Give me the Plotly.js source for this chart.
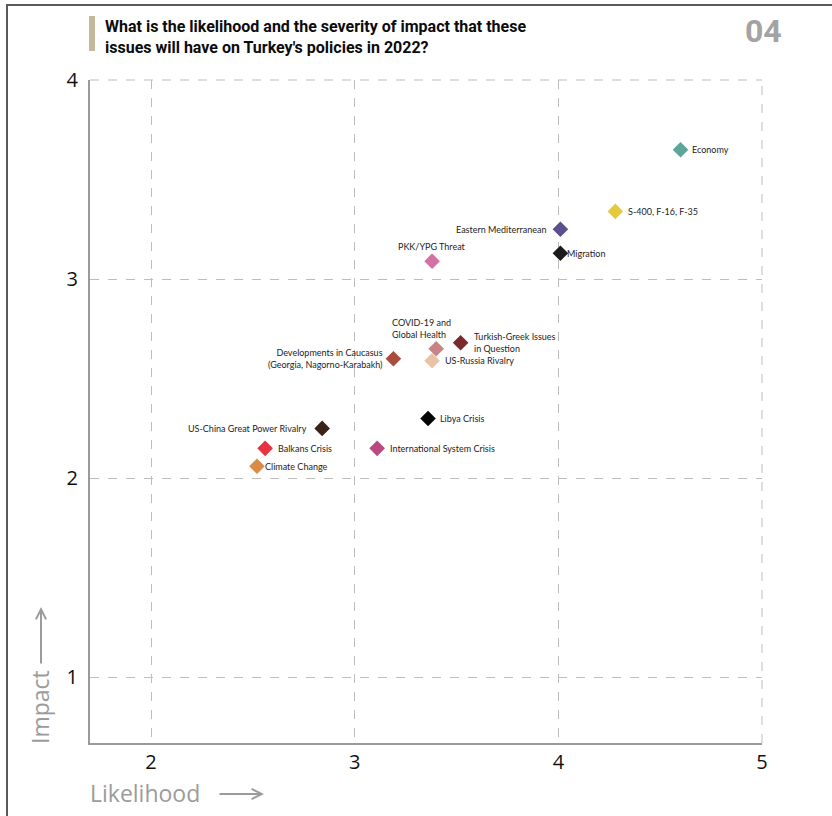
<!DOCTYPE html>
<html>
<head>
<meta charset="utf-8">
<script src="https://cdn.plot.ly/plotly-3.0.1.min.js"></script>
<style>html,body{margin:0;padding:0;background:#fff;}#chart{width:832px;height:816px;}</style>
</head>
<body>
<div id="chart"></div>
<script>
// ---- data ----
const issues = [
  "Economy", "S-400, F-16, F-35", "Eastern Mediterranean", "Migration",
  "PKK/YPG Threat", "COVID-19 and<br>Global Health", "Turkish-Greek Issues<br>in Question",
  "Developments in Caucasus<br>(Georgia, Nagorno-Karabakh)", "US-Russia Rivalry",
  "Libya Crisis", "US-China Great Power Rivalry", "International System Crisis",
  "Balkans Crisis", "Climate Change"
];
const likelihood = [4.60, 4.28, 4.01, 4.01, 3.38, 3.40, 3.52, 3.19, 3.38, 3.36, 2.84, 3.11, 2.56, 2.52];
const impact     = [3.65, 3.34, 3.25, 3.13, 3.09, 2.65, 2.68, 2.60, 2.59, 2.30, 2.25, 2.15, 2.15, 2.06];
const xTicks = [2, 3, 4, 5];
const yTicks = [1, 2, 3, 4];

// ---- styles ----
const colors = ["#5ba59b", "#e6c93c", "#5b4f8c", "#1b1a1c", "#d272a2", "#c98384", "#7b2a2c",
                "#a94c3c", "#e9c3a3", "#050505", "#3b2219", "#b94a80", "#e8323f", "#d98c45"];
// label placement: [xanchor, yanchor, xshift, yshift, align]
const labelPos = [
  ["left","middle",9,0,"left"], ["left","middle",11,0,"left"], ["right","middle",-12,0,"right"],
  ["left","middle",5,0,"left"], ["center","bottom",0,7,"center"], ["center","bottom",-15,7,"left"],
  ["left","middle",11,0,"left"], ["right","middle",-8,0,"right"], ["left","middle",11,0,"left"],
  ["left","middle",10,0,"left"], ["right","middle",-13,0,"right"], ["left","middle",11,0,"left"],
  ["left","middle",11,0,"left"], ["left","middle",6,0,"left"]
];

// geometry helpers for paper coords (plot area px 90..762 x 80..743)
const L = 90, R = 70, T = 80, B = 73, W = 832, H = 816;
const pw = W - L - R, ph = H - T - B;
const px = v => (v - L) / pw;
const py = v => 1 - (v - T) / ph;

const trace = {
  x: likelihood, y: impact, type: "scatter", mode: "markers",
  marker: {symbol: "diamond", size: 12, color: colors, line: {width: 0}},
  hoverinfo: "skip", showlegend: false
};

const annotations = issues.map((t, i) => ({
  x: likelihood[i], y: impact[i], xref: "x", yref: "y", text: t, showarrow: false,
  xanchor: labelPos[i][0], yanchor: labelPos[i][1], xshift: labelPos[i][2], yshift: labelPos[i][3],
  align: labelPos[i][4], font: {family: "Lato, 'Open Sans', sans-serif", size: 9, color: "#1e1b1c"}
}));

annotations.push(
  {xref: "paper", yref: "paper", x: px(103), y: py(15), xanchor: "left", yanchor: "top", align: "left",
   showarrow: false, text: "<b>What is the likelihood and the severity of impact that these<br>issues will have on Turkey's policies in 2022?</b>",
   font: {family: "Roboto, sans-serif", size: 16, color: "#0c0c0c"}},
  {xref: "paper", yref: "paper", x: px(763), y: py(31), xanchor: "center", yanchor: "middle",
   showarrow: false, text: "<b>04</b>", font: {family: "Roboto, sans-serif", size: 32, color: "#a3a3a3"}},
  {xref: "paper", yref: "paper", x: px(88), y: py(793), xanchor: "left", yanchor: "middle",
   showarrow: false, text: "Likelihood", font: {family: "'Open Sans', sans-serif", size: 23, color: "#9b9b9b"}},
  {xref: "paper", yref: "paper", x: px(264), y: py(794), ax: -46, ay: 0, axref: "pixel", ayref: "pixel",
   showarrow: true, arrowhead: 5, arrowsize: 1, arrowwidth: 2, arrowcolor: "#9b9b9b", text: ""},
  {xref: "paper", yref: "paper", x: px(40), y: py(746), xanchor: "center", yanchor: "bottom", textangle: -90,
   showarrow: false, text: "Impact", font: {family: "'Open Sans', sans-serif", size: 23, color: "#9b9b9b"}},
  {xref: "paper", yref: "paper", x: px(41), y: py(607), ax: 0, ay: 58, axref: "pixel", ayref: "pixel",
   showarrow: true, arrowhead: 5, arrowsize: 1, arrowwidth: 2, arrowcolor: "#9b9b9b", text: ""}
);

const shapes = [
  {type: "line", xref: "paper", yref: "paper", x0: px(6), x1: px(832), y0: py(5), y1: py(5),
   line: {color: "#5a5a5a", width: 2}},
  {type: "line", xref: "paper", yref: "paper", x0: px(7), x1: px(7), y0: py(5), y1: py(816),
   line: {color: "#5a5a5a", width: 2}},
  {type: "rect", xref: "paper", yref: "paper", x0: px(89), x1: px(95), y0: py(16), y1: py(51),
   fillcolor: "#c6b89b", line: {width: 0}},
  // dashed grid lines at the top and right edges of the plot
  {type: "line", xref: "paper", yref: "paper", x0: 0, x1: 1, y0: 1, y1: 1,
   line: {color: "#bdbdbd", width: 1, dash: "dash"}, layer: "below"},
  {type: "line", xref: "paper", yref: "paper", x0: 1, x1: 1, y0: 0, y1: 1,
   line: {color: "#bdbdbd", width: 1, dash: "dash"}, layer: "below"}
];

const layout = {
  width: W, height: H,
  margin: {l: L, r: R, t: T, b: B},
  paper_bgcolor: "#fff", plot_bgcolor: "#fff",
  showlegend: false,
  xaxis: {range: [1.70, 5], tickvals: xTicks, ticktext: xTicks.map(String),
          showgrid: true, gridcolor: "#bdbdbd", griddash: "dash", gridwidth: 1,
          zeroline: false, showline: true, linecolor: "#9a9a9a", linewidth: 2,
          ticks: "", ticklabelstandoff: 0,
          tickfont: {family: "'Open Sans', sans-serif", size: 20, color: "#111"}},
  yaxis: {range: [0.67, 4], tickvals: yTicks, ticktext: yTicks.map(String),
          showgrid: true, gridcolor: "#bdbdbd", griddash: "dash", gridwidth: 1,
          zeroline: false, showline: true, linecolor: "#9a9a9a", linewidth: 2,
          ticks: "", ticklabelstandoff: 6,
          tickfont: {family: "'Open Sans', sans-serif", size: 20, color: "#111"}},
  annotations: annotations,
  shapes: shapes
};

Plotly.newPlot("chart", [trace], layout, {displayModeBar: false, staticPlot: true});
</script>
</body>
</html>
